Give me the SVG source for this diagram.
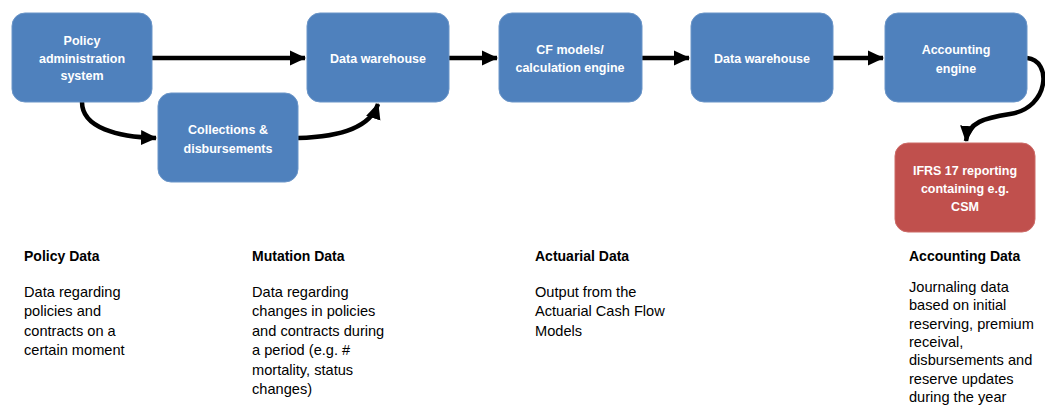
<svg xmlns="http://www.w3.org/2000/svg" width="1045" height="405" viewBox="0 0 1045 405">
<defs>
<style>
.box{fill:#4F81BD;stroke:#6a95c8;stroke-width:1}
.red{fill:#C0504D;stroke:#cc6a67;stroke-width:1}
.lbl{font-family:"Liberation Sans",Arial,sans-serif;font-size:12.5px;font-weight:bold;fill:#fff;text-anchor:middle}
.conn{fill:none;stroke:#000;stroke-width:4.5}
.hd{font-family:"Liberation Sans",Arial,sans-serif;font-size:14px;font-weight:bold;fill:#000}
.bd{font-family:"Liberation Sans",Arial,sans-serif;font-size:14.6px;fill:#000}
</style>
<marker id="ah" markerUnits="userSpaceOnUse" markerWidth="17" markerHeight="17" viewBox="0 0 17 17" refX="15" refY="8.5" orient="auto">
<path d="M0,1 L16,8.5 L0,16 Z" fill="#000"/>
</marker>
</defs>
<rect width="1045" height="405" fill="#fff"/>

<g id="connectors">
<path class="conn" d="M152,58 L305,58" marker-end="url(#ah)"/>
<path class="conn" d="M82,102 C82,128 118,137 156,138" marker-end="url(#ah)"/>
<path class="conn" d="M298,138 C340,137 370,128 378,104" marker-end="url(#ah)"/>
<path class="conn" d="M449,58 L497,58" marker-end="url(#ah)"/>
<path class="conn" d="M642,58 L689,58" marker-end="url(#ah)"/>
<path class="conn" d="M833,58 L883,58" marker-end="url(#ah)"/>
<path class="conn" d="M1027,58 C1052,60 1050,108 1010,114 C985,118 968,122 966,141" marker-end="url(#ah)"/>
</g>

<g id="policy-admin">
<rect class="box" x="12" y="13" width="140" height="89" rx="13"/>
<text class="lbl" x="82" y="44.5">Policy</text>
<text class="lbl" x="82" y="62.5">administration</text>
<text class="lbl" x="82" y="79.5">system</text>
</g>
<g id="collections">
<rect class="box" x="158" y="93" width="140" height="89" rx="13"/>
<text class="lbl" x="228" y="133.5">Collections &amp;</text>
<text class="lbl" x="228" y="152.5">disbursements</text>
</g>
<g id="data-warehouse-1">
<rect class="box" x="307" y="13" width="142" height="89" rx="13"/>
<text class="lbl" x="378" y="62.5">Data warehouse</text>
</g>
<g id="cf-models">
<rect class="box" x="499" y="13" width="143" height="89" rx="13"/>
<text class="lbl" x="570" y="53.5">CF models/</text>
<text class="lbl" x="570" y="71.5">calculation engine</text>
</g>
<g id="data-warehouse-2">
<rect class="box" x="691" y="13" width="142" height="89" rx="13"/>
<text class="lbl" x="762" y="62.5">Data warehouse</text>
</g>
<g id="accounting-engine">
<rect class="box" x="885" y="13" width="142" height="89" rx="13"/>
<text class="lbl" x="956" y="53.5">Accounting</text>
<text class="lbl" x="956" y="72.5">engine</text>
</g>
<g id="ifrs17">
<rect class="red" x="895" y="143" width="140" height="89" rx="13"/>
<text class="lbl" x="965" y="174.5">IFRS 17 reporting</text>
<text class="lbl" x="965" y="192.5">containing e.g.</text>
<text class="lbl" x="965" y="210.5">CSM</text>
</g>

<g id="policy-data">
<text class="hd" x="24" y="261">Policy Data</text>
<text class="bd" x="24" y="297">Data regarding</text>
<text class="bd" x="24" y="316">policies and</text>
<text class="bd" x="24" y="336">contracts on a</text>
<text class="bd" x="24" y="355">certain moment</text>
</g>
<g id="mutation-data">
<text class="hd" x="252" y="261">Mutation Data</text>
<text class="bd" x="252" y="297">Data regarding</text>
<text class="bd" x="252" y="316">changes in policies</text>
<text class="bd" x="252" y="336">and contracts during</text>
<text class="bd" x="252" y="355">a period (e.g. #</text>
<text class="bd" x="252" y="375">mortality, status</text>
<text class="bd" x="252" y="394">changes)</text>
</g>
<g id="actuarial-data">
<text class="hd" x="535" y="261">Actuarial Data</text>
<text class="bd" x="535" y="297">Output from the</text>
<text class="bd" x="535" y="316">Actuarial Cash Flow</text>
<text class="bd" x="535" y="336">Models</text>
</g>
<g id="accounting-data">
<text class="hd" x="909" y="261">Accounting Data</text>
<text class="bd" x="909" y="292">Journaling data</text>
<text class="bd" x="909" y="310.3">based on initial</text>
<text class="bd" x="909" y="328.6">reserving, premium</text>
<text class="bd" x="909" y="346.9">receival,</text>
<text class="bd" x="909" y="365.2">disbursements and</text>
<text class="bd" x="909" y="383.5">reserve updates</text>
<text class="bd" x="909" y="401.8">during the year</text>
</g>
</svg>
